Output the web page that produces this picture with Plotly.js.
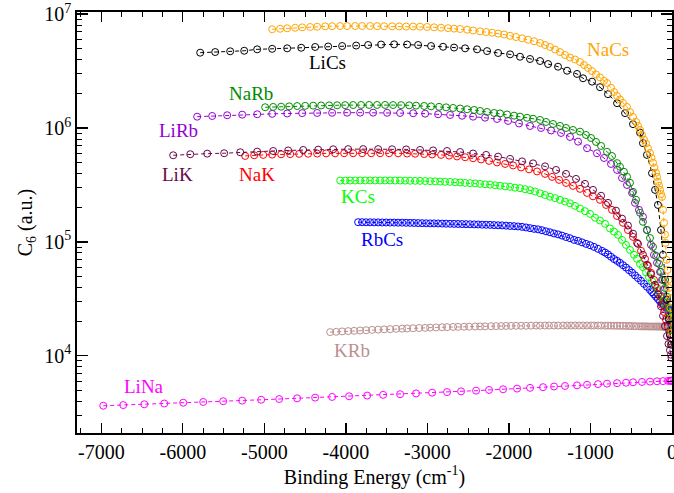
<!DOCTYPE html>
<html>
<head>
<meta charset="utf-8">
<script src="https://cdn.plot.ly/plotly-3.0.1.min.js"></script>
<style>
html,body{margin:0;padding:0;background:#fff;}
#chart{width:674px;height:493px;}
#chart svg text{font-family:'Liberation Serif', serif !important;}
</style>
</head>
<body>
<div id="chart"></div>
<script>
// ---- data (binding energy in cm^-1, C6 in a.u.) ----
const naCsE = [-4904,-4806,-4720,-4622,-4536,-4438,-4352,-4254,-4169,-4071,-3985,-3887,-3801,-3703,-3617,-3531,-3433,-3347,-3261,-3175,-3090,-3004,-2918,-2832,-2746,-2673,-2599,-2513,-2440,-2354,-2280,-2207,-2133,-2060,-1986,-1913,-1839,-1765,-1692,-1618,-1557,-1496,-1434,-1373,-1312,-1251,-1189,-1128,-1079,-1030,-981,-932,-883,-834,-797,-748,-711,-674,-638,-601,-552,-515,-478,-441,-417,-392,-368,-343,-319,-294,-270,-251,-233,-215,-196,-184,-172,-159,-147,-135,-123,-110,-98,-86,-80,-67,-55,-43,-37,-25,-18,-12,-6];
const naCsC6 = [7.35e6,7.43e6,7.50e6,7.58e6,7.64e6,7.70e6,7.74e6,7.79e6,7.82e6,7.85e6,7.85e6,7.85e6,7.85e6,7.85e6,7.83e6,7.82e6,7.80e6,7.79e6,7.77e6,7.77e6,7.75e6,7.70e6,7.65e6,7.59e6,7.52e6,7.45e6,7.39e6,7.29e6,7.17e6,7.05e6,6.95e6,6.86e6,6.74e6,6.61e6,6.44e6,6.28e6,6.12e6,5.95e6,5.77e6,5.57e6,5.35e6,5.14e6,4.88e6,4.64e6,4.37e6,4.15e6,3.99e6,3.79e6,3.57e6,3.36e6,3.16e6,2.95e6,2.78e6,2.59e6,2.48e6,2.25e6,2.07e6,1.91e6,1.78e6,1.66e6,1.53e6,1.38e6,1.25e6,1.13e6,1.04e6,9.6e5,8.7e5,7.9e5,7.3e5,6.6e5,6.04e5,5.46e5,4.95e5,4.48e5,4.05e5,3.73e5,3.37e5,3.11e5,2.86e5,2.63e5,2.48e5,1.91e5,1.47e5,1.16e5,9.8e4,6.95e4,5.68e4,4.64e4,3.94e4,3.22e4,2.63e4,2.15e4,1.6e4];

const liCsE = [-5787,-5603,-5419,-5247,-5088,-4904,-4720,-4548,-4377,-4217,-4046,-3874,-3727,-3568,-3408,-3249,-3114,-2955,-2808,-2673,-2538,-2391,-2268,-2133,-1986,-1864,-1741,-1618,-1520,-1398,-1287,-1165,-1091,-981,-883,-785,-674,-576,-478,-392,-356,-307,-245,-208,-172,-135,-110,-86,-61,-37,-25,-12];
const liCsC6 = [4.58e6,4.64e6,4.71e6,4.76e6,4.90e6,4.95e6,5.00e6,5.06e6,5.14e6,5.19e6,5.24e6,5.29e6,5.35e6,5.40e6,5.42e6,5.40e6,5.35e6,5.24e6,5.16e6,5.08e6,5.00e6,4.90e6,4.73e6,4.55e6,4.43e6,4.22e6,4.03e6,3.87e6,3.64e6,3.45e6,3.18e6,2.98e6,2.73e6,2.55e6,2.28e6,1.98e6,1.65e6,1.35e6,1.08e6,9.10e5,7.35e5,5.80e5,4.01e5,2.86e5,2.11e5,1.27e5,7.69e4,4.64e4,3.10e4,2.07e4,1.53e4,1.25e4];

const naRbE = [-4990,-4892,-4794,-4696,-4598,-4499,-4401,-4303,-4205,-4107,-4009,-3911,-3813,-3715,-3617,-3519,-3421,-3322,-3224,-3139,-3040,-2955,-2857,-2771,-2685,-2599,-2513,-2427,-2354,-2268,-2182,-2109,-2023,-1937,-1864,-1778,-1704,-1618,-1545,-1459,-1373,-1300,-1214,-1128,-1055,-993,-932,-870,-797,-736,-674,-638,-589,-552,-515,-478,-441,-392,-356,-307,-270,-233,-196,-159,-135,-110,-86,-61,-37,-18,-6];
const naRbC6 = [1.520e6,1.529e6,1.538e6,1.547e6,1.557e6,1.563e6,1.570e6,1.576e6,1.579e6,1.582e6,1.586e6,1.589e6,1.592e6,1.592e6,1.592e6,1.592e6,1.589e6,1.586e6,1.579e6,1.570e6,1.560e6,1.547e6,1.532e6,1.517e6,1.498e6,1.481e6,1.460e6,1.439e6,1.410e6,1.382e6,1.354e6,1.341e6,1.314e6,1.282e6,1.257e6,1.229e6,1.205e6,1.176e6,1.129e6,1.084e6,1.042e6,1.0e6,9.6e5,9.28e5,8.68e5,8.17e5,7.54e5,6.95e5,6.18e5,5.67e5,4.91e5,4.56e5,4.12e5,3.73e5,3.30e5,2.75e5,2.34e5,1.80e5,1.50e5,1.27e5,1.08e5,9.03e4,7.54e4,6.41e4,5.45e4,4.64e4,3.94e4,3.30e4,2.65e4,2.16e4,1.69e4];

const liRbE = [-5824,-5640,-5456,-5272,-5088,-4904,-4720,-4536,-4352,-4169,-3985,-3825,-3666,-3494,-3335,-3175,-3028,-2869,-2722,-2575,-2440,-2293,-2146,-2011,-1876,-1741,-1606,-1483,-1361,-1251,-1152,-1042,-920,-834,-748,-674,-613,-552,-490,-454,-405,-356,-307,-258,-221,-184,-147,-123,-98,-74,-49,-25,-6];
const liRbC6 = [1.256e6,1.274e6,1.293e6,1.308e6,1.319e6,1.330e6,1.340e6,1.349e6,1.354e6,1.359e6,1.362e6,1.362e6,1.362e6,1.359e6,1.354e6,1.346e6,1.335e6,1.319e6,1.300e6,1.280e6,1.256e6,1.231e6,1.199e6,1.152e6,1.095e6,1.041e6,1.0e6,9.50e5,9.04e5,8.34e5,7.58e5,6.64e5,6.00e5,5.45e5,4.83e5,4.28e5,3.64e5,3.16e5,2.69e5,2.20e5,1.91e5,1.66e5,1.27e5,9.41e4,7.69e4,6.54e4,5.45e4,4.64e4,3.79e4,3.10e4,2.53e4,2.00e4,1.53e4];

const liKE = [-6118,-5909,-5701,-5493,-5296,-5088,-4892,-4708,-4524,-4340,-4156,-3972,-3788,-3604,-3433,-3261,-3090,-2930,-2759,-2599,-2440,-2280,-2133,-1986,-1839,-1704,-1557,-1422,-1300,-1177,-1067,-969,-870,-785,-687,-613,-540,-478,-417,-356,-307,-258,-208,-172,-135,-110,-86,-61,-43,-25,-12,-6];
const liKC6 = [5.76e5,5.88e5,5.95e5,6.00e5,6.12e5,6.20e5,6.28e5,6.35e5,6.41e5,6.45e5,6.50e5,6.52e5,6.52e5,6.52e5,6.50e5,6.48e5,6.41e5,6.35e5,6.28e5,6.15e5,5.97e5,5.80e5,5.60e5,5.35e5,5.09e5,4.89e5,4.60e5,4.28e5,3.95e5,3.57e5,3.23e5,2.86e5,2.54e5,2.20e5,1.88e5,1.60e5,1.39e5,1.18e5,9.6e4,7.7e4,6.3e4,5.2e4,4.2e4,3.45e4,2.72e4,2.24e4,1.82e4,1.49e4,1.27e4,1.12e4,1.02e4,9.6e3];

const naKE = [-5235,-5125,-5014,-4904,-4794,-4683,-4573,-4463,-4352,-4242,-4132,-4021,-3911,-3801,-3690,-3580,-3470,-3359,-3249,-3151,-3040,-2942,-2832,-2734,-2636,-2538,-2440,-2342,-2244,-2146,-2047,-1949,-1851,-1753,-1655,-1557,-1471,-1385,-1300,-1214,-1128,-1042,-969,-883,-809,-736,-674,-601,-540,-478,-429,-380,-331,-294,-258,-221,-184,-147,-123,-98,-74,-49,-25,-6];
const naKC6 = [5.68e5,5.76e5,5.80e5,5.83e5,5.87e5,5.89e5,5.92e5,5.94e5,5.96e5,5.98e5,5.99e5,6.00e5,6.00e5,6.00e5,6.00e5,6.00e5,6.00e5,5.99e5,5.96e5,5.94e5,5.90e5,5.85e5,5.80e5,5.72e5,5.62e5,5.53e5,5.42e5,5.29e5,5.14e5,4.98e5,4.83e5,4.69e5,4.50e5,4.33e5,4.15e5,3.95e5,3.72e5,3.50e5,3.29e5,3.10e5,2.92e5,2.69e5,2.51e5,2.34e5,2.11e5,1.91e5,1.69e5,1.47e5,1.27e5,1.106e5,9.8e4,8.34e4,7.09e4,6.16e4,5.35e4,4.64e4,3.94e4,3.30e4,2.80e4,2.43e4,2.07e4,1.80e4,1.53e4,1.33e4];

const kCsE = [-4070,-4009,-3948,-3886,-3825,-3764,-3703,-3641,-3580,-3519,-3458,-3396,-3335,-3273,-3212,-3151,-3090,-3028,-2967,-2906,-2844,-2783,-2722,-2660,-2599,-2538,-2477,-2415,-2354,-2293,-2231,-2170,-2109,-2047,-1986,-1925,-1864,-1802,-1741,-1680,-1618,-1557,-1496,-1434,-1373,-1312,-1251,-1189,-1128,-1067,-1005,-944,-883,-821,-760,-711,-662,-613,-564,-515,-466,-429,-392,-356,-319,-282,-245,-208,-172,-135,-110,-86,-61,-37,-18,-6];
const kCsC6 = [3.45e5,3.45e5,3.455e5,3.455e5,3.46e5,3.46e5,3.46e5,3.46e5,3.46e5,3.46e5,3.46e5,3.455e5,3.455e5,3.45e5,3.44e5,3.435e5,3.43e5,3.42e5,3.41e5,3.40e5,3.38e5,3.37e5,3.36e5,3.34e5,3.32e5,3.29e5,3.28e5,3.26e5,3.23e5,3.20e5,3.18e5,3.14e5,3.11e5,3.07e5,3.04e5,2.99e5,2.96e5,2.90e5,2.84e5,2.77e5,2.67e5,2.58e5,2.49e5,2.42e5,2.34e5,2.26e5,2.18e5,2.07e5,1.96e5,1.86e5,1.76e5,1.63e5,1.54e5,1.44e5,1.31e5,1.23e5,1.15e5,1.04e5,9.4e4,8.5e4,7.7e4,7.1e4,6.4e4,6.0e4,5.4e4,4.9e4,4.55e4,4.1e4,3.7e4,3.3e4,3.03e4,2.8e4,2.6e4,2.4e4,2.2e4,2.07e4];

const rbCsE = [-3850,-3801,-3752,-3703,-3654,-3604,-3555,-3506,-3457,-3408,-3359,-3310,-3261,-3212,-3163,-3114,-3065,-3016,-2967,-2918,-2869,-2820,-2771,-2722,-2673,-2624,-2575,-2526,-2477,-2427,-2378,-2329,-2280,-2231,-2182,-2133,-2084,-2035,-1986,-1937,-1888,-1839,-1790,-1741,-1692,-1643,-1594,-1545,-1496,-1447,-1398,-1349,-1300,-1251,-1201,-1152,-1103,-1054,-1005,-956,-907,-858,-821,-785,-748,-711,-674,-638,-601,-564,-527,-490,-454,-417,-380,-343,-307,-270,-245,-221,-196,-172,-147,-123,-98,-74,-49,-31,-12];
const rbCsC6 = [1.489e5,1.489e5,1.486e5,1.486e5,1.483e5,1.483e5,1.480e5,1.480e5,1.477e5,1.477e5,1.474e5,1.474e5,1.471e5,1.468e5,1.465e5,1.462e5,1.459e5,1.456e5,1.453e5,1.453e5,1.450e5,1.447e5,1.444e5,1.441e5,1.439e5,1.436e5,1.433e5,1.430e5,1.427e5,1.424e5,1.421e5,1.416e5,1.413e5,1.410e5,1.404e5,1.399e5,1.396e5,1.388e5,1.379e5,1.374e5,1.366e5,1.354e5,1.338e5,1.319e5,1.301e5,1.288e5,1.265e5,1.237e5,1.213e5,1.186e5,1.164e5,1.135e5,1.103e5,1.076e5,1.041e5,1.020e5,9.90e4,9.60e4,9.35e4,9.03e4,8.69e4,8.33e4,8.05e4,7.76e4,7.40e4,7.07e4,6.81e4,6.54e4,6.24e4,5.95e4,5.65e4,5.37e4,5.08e4,4.81e4,4.55e4,4.28e4,4.03e4,3.79e4,3.62e4,3.46e4,3.30e4,3.15e4,3.00e4,2.89e4,2.79e4,2.69e4,2.60e4,2.53e4,2.48e4];

const kRbE = [-4193,-4119,-4046,-3972,-3899,-3825,-3752,-3678,-3604,-3531,-3457,-3384,-3310,-3249,-3175,-3102,-3028,-2967,-2893,-2820,-2759,-2685,-2624,-2550,-2489,-2415,-2354,-2293,-2219,-2158,-2096,-2035,-1974,-1913,-1851,-1790,-1729,-1667,-1618,-1557,-1508,-1447,-1398,-1336,-1287,-1238,-1189,-1140,-1091,-1042,-993,-956,-907,-870,-821,-785,-748,-711,-674,-638,-601,-564,-527,-503,-466,-441,-405,-380,-356,-331,-307,-282,-258,-233,-208,-190,-172,-153,-135,-116,-98,-86,-74,-61,-49,-37,-25,-12];
const kRbC6 = [1.613e4,1.623e4,1.636e4,1.646e4,1.656e4,1.666e4,1.676e4,1.687e4,1.697e4,1.707e4,1.714e4,1.724e4,1.731e4,1.738e4,1.745e4,1.752e4,1.759e4,1.766e4,1.773e4,1.780e4,1.784e4,1.791e4,1.795e4,1.798e4,1.802e4,1.806e4,1.810e4,1.813e4,1.817e4,1.821e4,1.824e4,1.828e4,1.832e4,1.832e4,1.835e4,1.835e4,1.839e4,1.839e4,1.839e4,1.843e4,1.843e4,1.843e4,1.843e4,1.843e4,1.843e4,1.843e4,1.843e4,1.843e4,1.843e4,1.843e4,1.843e4,1.843e4,1.843e4,1.843e4,1.839e4,1.839e4,1.839e4,1.835e4,1.835e4,1.832e4,1.832e4,1.828e4,1.824e4,1.824e4,1.821e4,1.817e4,1.813e4,1.813e4,1.810e4,1.810e4,1.810e4,1.806e4,1.806e4,1.806e4,1.806e4,1.806e4,1.806e4,1.806e4,1.802e4,1.798e4,1.795e4,1.784e4,1.773e4,1.759e4,1.745e4,1.731e4,1.714e4,1.69e4];

const liNaE = [-6976,-6731,-6473,-6228,-5995,-5750,-5505,-5272,-5039,-4818,-4598,-4377,-4169,-3960,-3739,-3543,-3335,-3139,-2942,-2759,-2587,-2403,-2244,-2072,-1900,-1741,-1582,-1447,-1312,-1165,-1042,-907,-797,-674,-564,-478,-368,-270,-184,-110,-49,-25,-12,-6,-2];
const liNaC6 = [3.64e3,3.69e3,3.75e3,3.81e3,3.87e3,3.93e3,3.99e3,4.04e3,4.11e3,4.17e3,4.23e3,4.29e3,4.35e3,4.41e3,4.47e3,4.54e3,4.60e3,4.67e3,4.74e3,4.80e3,4.87e3,4.94e3,5.01e3,5.08e3,5.15e3,5.23e3,5.30e3,5.37e3,5.43e3,5.50e3,5.57e3,5.64e3,5.69e3,5.75e3,5.80e3,5.85e3,5.89e3,5.93e3,5.97e3,5.99e3,6.02e3,6.03e3,6.04e3,6.04e3,6.04e3];

const xTickVals = [-7000,-6000,-5000,-4000,-3000,-2000,-1000,0];
const xTickText = ["-7000","-6000","-5000","-4000","-3000","-2000","-1000","0"];
const yTickVals = [1e4,1e5,1e6,1e7];
const yTickText = ["10<sup>4</sup>","10<sup>5</sup>","10<sup>6</sup>","10<sup>7</sup>"];
const yMinorVals = [3e3,4e3,5e3,6e3,7e3,8e3,9e3,2e4,3e4,4e4,5e4,6e4,7e4,8e4,9e4,2e5,3e5,4e5,5e5,6e5,7e5,8e5,9e5,2e6,3e6,4e6,5e6,6e6,7e6,8e6,9e6];

// ---- series definitions ----
const series = [
  {name:"KRb",  x:kRbE,  y:kRbC6,  color:"#bc8f8f", label:"KRb",  lx:0.4622, ly:0.195},
  {name:"LiNa", x:liNaE, y:liNaC6, color:"#ff00ff", label:"LiNa", lx:0.1126, ly:0.110},
  {name:"RbCs", x:rbCsE, y:rbCsC6, color:"#0000ff", label:"RbCs", lx:0.5126, ly:0.459},
  {name:"KCs",  x:kCsE,  y:kCsC6,  color:"#00ff00", label:"KCs",  lx:0.4723, ly:0.561},
  {name:"NaK",  x:naKE,  y:naKC6,  color:"#ff0000", label:"NaK",  lx:0.3025, ly:0.613},
  {name:"LiK",  x:liKE,  y:liKC6,  color:"#670748", label:"LiK",  lx:0.1681, ly:0.613},
  {name:"LiRb", x:liRbE, y:liRbC6, color:"#9400d3", label:"LiRb", lx:0.1714, ly:0.718},
  {name:"NaRb", x:naRbE, y:naRbC6, color:"#008b00", label:"NaRb", lx:0.2924, ly:0.806},
  {name:"LiCs", x:liCsE, y:liCsC6, color:"#000000", label:"LiCs", lx:0.4202, ly:0.879},
  {name:"NaCs", x:naCsE, y:naCsC6, color:"#ffa500", label:"NaCs", lx:0.8924, ly:0.912}
];

const FONT = "Liberation Serif";

const traces = series.map(s => ({
  type: "scatter",
  mode: "lines+markers",
  name: s.name,
  x: s.x,
  y: s.y,
  line: {color: s.color, width: 1, dash: "4px,3px"},
  marker: {symbol: "circle-open", size: 7, color: s.color, line: {width: 1, color: s.color}},
  showlegend: false,
  hoverinfo: "skip"
}));

const annotations = series.map(s => ({
  xref: "paper", yref: "paper", x: s.lx, y: s.ly,
  text: s.label, showarrow: false,
  xanchor: "center", yanchor: "middle",
  font: {family: FONT, size: 19, color: s.color}
}));

const layout = {
  width: 674, height: 493,
  margin: {l: 77, r: 2, t: 12, b: 60},
  paper_bgcolor: "#ffffff",
  plot_bgcolor: "#ffffff",
  font: {family: FONT, size: 20, color: "#000"},
  showlegend: false,
  xaxis: {
    range: [-7298, 0],
    tickmode: "array", tickvals: xTickVals, ticktext: xTickText,
    ticklabeloverflow: "allow",
    ticks: "inside", ticklen: 10, tickwidth: 1.3, tickcolor: "#000",
    minor: {tickmode: "linear", tick0: 0, dtick: 250, ticks: "inside", ticklen: 5, tickwidth: 1, tickcolor: "#000", showgrid: false},
    showline: true, linewidth: 1.8, linecolor: "#000", mirror: "ticks",
    showgrid: false, zeroline: false,
    tickfont: {family: FONT, size: 20, color: "#000"},
    title: {text: "Binding Energy (cm<sup>-1</sup>)", font: {family: FONT, size: 20, color: "#000"}, standoff: 8}
  },
  yaxis: {
    type: "log",
    range: [3.322, 7.018],
    tickmode: "array", tickvals: yTickVals, ticktext: yTickText,
    ticklabeloverflow: "allow",
    ticks: "inside", ticklen: 11, tickwidth: 1.3, tickcolor: "#000",
    minor: {tickmode: "array", tickvals: yMinorVals, ticks: "inside", ticklen: 5, tickwidth: 1, tickcolor: "#000", showgrid: false},
    showline: true, linewidth: 1.8, linecolor: "#000", mirror: "ticks",
    showgrid: false, zeroline: false,
    tickfont: {family: FONT, size: 20, color: "#000"},
    title: {text: "C<sub>6</sub> (a.u.)", font: {family: FONT, size: 20, color: "#000"}, standoff: 6}
  },
  annotations: annotations
};

Plotly.newPlot("chart", traces, layout, {staticPlot: true, displayModeBar: false});
</script>
</body>
</html>
